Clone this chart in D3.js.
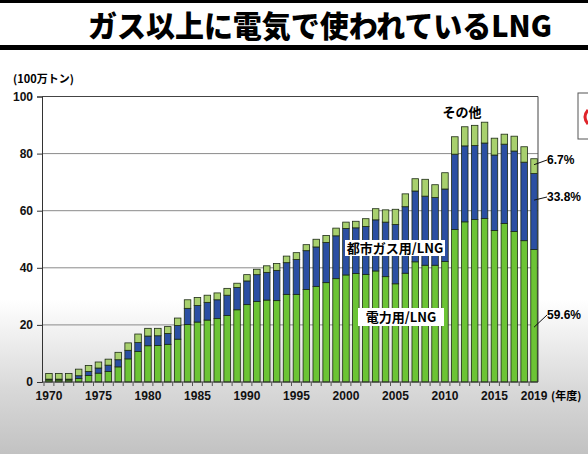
<!DOCTYPE html>
<html>
<head>
<meta charset="utf-8">
<script src="https://cdn.jsdelivr.net/npm/d3@7"></script>
<style>
  body { margin: 0; }
  svg { display: block; }
  text { font-family: "Liberation Sans", Arial, sans-serif; }
  .jp { font-family: "Noto Sans CJK JP", sans-serif; }
</style>
</head>
<body>
<svg width="588" height="454"></svg>
<script>
// 年度
var years = d3.range(1970, 2020);

// 電力用/LNG (100万トン)
var power = [0.7, 0.7, 0.7, 1.2, 2.3, 3.1, 3.7, 5.3, 8.1, 10.7,
  12.7, 12.8, 13.2, 15.0, 20.1, 21.0, 21.7, 22.2, 23.3, 25.3,
  27.1, 28.2, 28.7, 28.5, 30.7, 30.7, 32.4, 33.5, 34.8, 36.2,
  37.5, 38.0, 37.7, 38.9, 36.9, 34.4, 38.1, 42.1, 40.9, 40.9,
  42.2, 53.4, 56.1, 56.9, 57.3, 53.1, 55.5, 52.7, 49.5, 46.4];

// 都市ガス用/LNG
var cityGas = [0.3, 0.3, 0.3, 1.0, 1.4, 1.8, 2.2, 2.5, 3.0, 3.1,
  3.4, 3.4, 3.8, 4.8, 5.7, 5.8, 6.2, 6.6, 7.1, 7.8,
  8.3, 9.4, 9.7, 10.6, 11.1, 12.2, 13.6, 13.8, 14.1, 15.0,
  16.3, 16.0, 16.8, 17.9, 19.1, 20.8, 23.3, 24.8, 24.2, 23.7,
  25.4, 26.4, 26.6, 25.9, 26.4, 26.4, 27.8, 28.2, 27.5, 26.6];

// その他
var other = [2.0, 2.0, 2.0, 2.3, 2.1, 2.1, 2.1, 2.6, 2.6, 3.0,
  2.7, 2.6, 2.4, 2.6, 3.0, 2.8, 2.5, 2.4, 2.4, 1.5,
  2.2, 1.9, 2.3, 2.4, 2.3, 2.4, 2.1, 2.7, 2.4, 2.7,
  2.2, 2.3, 2.7, 3.9, 4.3, 5.3, 4.5, 4.3, 5.9, 4.5,
  5.7, 6.1, 6.7, 7.1, 7.3, 5.9, 3.5, 5.2, 5.4, 5.2];

var yTicks = [0, 20, 40, 60, 80, 100];
var xLabelYears = [1970, 1975, 1980, 1985, 1990, 1995, 2000, 2005, 2010, 2015, 2019];
var shareLabels = ["59.6%", "33.8%", "6.7%"];

var keys = ["power", "cityGas", "other"];
var colors = { power: "#6cc435", cityGas: "#2b4fa3", other: "#a8d06e" };

var table = years.map(function (y, i) {
  return { year: y, power: power[i], cityGas: cityGas[i], other: other[i] };
});

var svg = d3.select("svg");

// 背景
var defs = svg.append("defs");
var grad = defs.append("linearGradient")
  .attr("id", "bg").attr("x1", 0).attr("y1", 0).attr("x2", 0).attr("y2", 1);
grad.append("stop").attr("offset", "0.66").attr("stop-color", "#ffffff");
grad.append("stop").attr("offset", "0.86").attr("stop-color", "#d8d8d8");
grad.append("stop").attr("offset", "1").attr("stop-color", "#c2c2c2");
svg.append("rect").attr("width", 588).attr("height", 454).attr("fill", "url(#bg)");

// タイトル
svg.append("rect").attr("x", 0).attr("y", 0).attr("width", 588).attr("height", 3).attr("fill", "#000");
svg.append("rect").attr("x", 0).attr("y", 45).attr("width", 588).attr("height", 5).attr("fill", "#000");
svg.append("text")
  .attr("class", "jp")
  .attr("x", 88).attr("y", 37)
  .attr("textLength", 464).attr("lengthAdjust", "spacingAndGlyphs")
  .style("font-size", "30px").style("font-weight", 900)
  .text("ガス以上に電気で使われているLNG");

var x = d3.scaleBand().domain(years).range([44, 539]).paddingInner(0.34).paddingOuter(0.17);
var y = d3.scaleLinear().domain([0, 100]).range([382, 96.5]);

// グリッド
svg.append("g")
  .selectAll("line")
  .data(yTicks.filter(function (d) { return d > 0; }))
  .enter().append("line")
  .attr("x1", 42).attr("x2", 538)
  .attr("y1", function (d) { return y(d); })
  .attr("y2", function (d) { return y(d); })
  .attr("stroke", function (d) { return d === 100 ? "#444" : "#8a8a8a"; })
  .attr("stroke-width", 1);
svg.append("line")
  .attr("x1", 538).attr("x2", 538).attr("y1", y(100)).attr("y2", y(0))
  .attr("stroke", "#444");

// 棒
var stack = d3.stack().keys(keys)(table);
svg.append("g")
  .selectAll("g")
  .data(stack)
  .enter().append("g")
  .attr("fill", function (d) { return colors[d.key]; })
  .selectAll("rect")
  .data(function (d) { return d; })
  .enter().append("rect")
  .attr("x", function (d) { return x(d.data.year); })
  .attr("width", x.bandwidth())
  .attr("y", function (d) { return y(d[1]); })
  .attr("height", function (d) { return y(d[0]) - y(d[1]); })
  .attr("stroke", "#1c2a14")
  .attr("stroke-width", 0.8);

// Y軸
var yAxis = svg.append("g")
  .attr("transform", "translate(42,0)")
  .call(d3.axisLeft(y).tickValues(yTicks).tickSize(5).tickPadding(4));
yAxis.select(".domain").attr("stroke", "#333");
yAxis.selectAll(".tick line").attr("stroke", "#333");
yAxis.selectAll("text").style("font-size", "12px").style("font-weight", "bold").attr("fill", "#111");

// X軸
var xAxis = svg.append("g")
  .attr("transform", "translate(0,382)")
  .call(d3.axisBottom(x).tickValues(xLabelYears).tickSize(0).tickPadding(9));
xAxis.select(".domain").remove();
xAxis.selectAll("text").style("font-size", "12px").style("font-weight", "bold").attr("fill", "#111");
svg.append("line").attr("x1", 42).attr("x2", 538).attr("y1", 382).attr("y2", 382).attr("stroke", "#333");
svg.append("g")
  .selectAll("line")
  .data(years)
  .enter().append("line")
  .attr("x1", function (d) { return x(d) - x.step() * x.paddingInner() / 2; })
  .attr("x2", function (d) { return x(d) - x.step() * x.paddingInner() / 2; })
  .attr("y1", 382).attr("y2", 386)
  .attr("stroke", "#555");

svg.append("text").attr("class", "jp")
  .attr("x", 551).attr("y", 400)
  .style("font-size", "11px").style("font-weight", "bold")
  .text("(年度)");
svg.append("text").attr("class", "jp")
  .attr("x", 13).attr("y", 83)
  .style("font-size", "11px").style("font-weight", "bold")
  .text("(100万トン)");

// ラベル
svg.append("text").attr("class", "jp")
  .attr("x", 462).attr("y", 117).attr("text-anchor", "middle")
  .style("font-size", "13px").style("font-weight", "bold")
  .text("その他");

function boxLabel(cx, cy, w, h, txt) {
  svg.append("rect").attr("x", cx - w / 2).attr("y", cy - h / 2)
    .attr("width", w).attr("height", h).attr("fill", "#fff");
  svg.append("text").attr("class", "jp")
    .attr("x", cx).attr("y", cy + 5).attr("text-anchor", "middle")
    .style("font-size", "13px").style("font-weight", "bold")
    .text(txt);
}
boxLabel(395, 248, 100, 16, "都市ガス用/LNG");
boxLabel(401, 317, 86, 18, "電力用/LNG");

// 構成比 (2019)
var last = stack.map(function (s) { return s[s.length - 1]; });
var labelY = [315, 197, 160];
last.forEach(function (seg, i) {
  var mid = i === 2 ? y(seg[0] + (seg[1] - seg[0]) * 0.6) : y((seg[0] + seg[1]) / 2 + (i === 0 ? -4 : 4));
  svg.append("line")
    .attr("x1", x(2019) + x.bandwidth() / 2).attr("y1", mid)
    .attr("x2", 547).attr("y2", labelY[i])
    .attr("stroke", "#111").attr("stroke-width", 1);
  svg.append("text")
    .attr("x", 547).attr("y", labelY[i] + 4)
    .style("font-size", "12px").style("font-weight", "bold")
    .text(shareLabels[i]);
});

// 右端の枠
svg.append("rect").attr("x", 578).attr("y", 93).attr("width", 20).attr("height", 46)
  .attr("fill", "#fff").attr("stroke", "#555");
svg.append("path").attr("d", "M588,110 Q582,117 588,124")
  .attr("fill", "none").attr("stroke", "#e0242a").attr("stroke-width", 3);
</script>
</body>
</html>
